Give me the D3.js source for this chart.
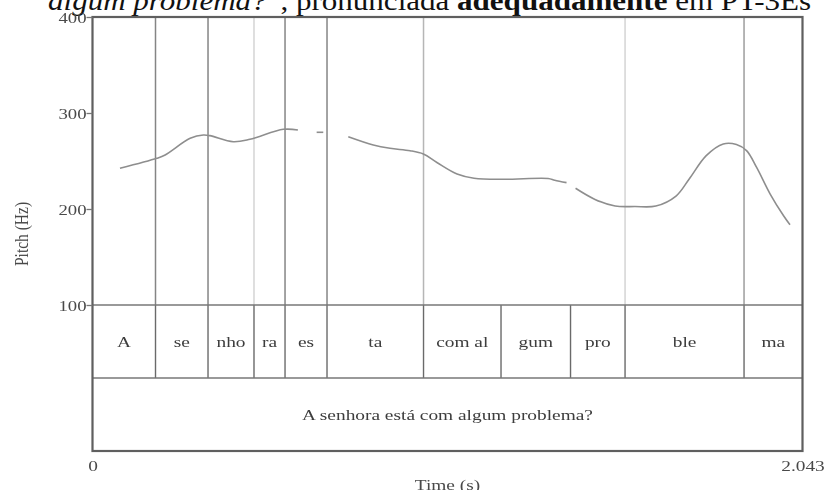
<!DOCTYPE html>
<html>
<head>
<meta charset="utf-8">
<script src="https://cdn.jsdelivr.net/npm/d3@7"></script>
<style>
  html, body { margin: 0; padding: 0; background: #fff; }
  svg { display: block; }
  text { font-family: "Liberation Serif", "Times New Roman", serif; }
</style>
</head>
<body>
<svg id="chart" width="828" height="490"></svg>
<script>
// ---- data ----
const timeEnd = 2.043;                       // total duration (s)
const timeTickLabels = ["0", "2.043"];
const hzTicks = [100, 200, 300, 400];

// syllable tier: interval boundaries (s) and labels
const boundaries = [0.1813, 0.3324, 0.4647, 0.5540, 0.6748, 0.9525, 1.1755, 1.3755, 1.5324, 1.8748];
const syllables = ["A", "se", "nho", "ra", "es", "ta", "com al", "gum", "pro", "ble", "ma"];
// sentence tier
const sentence = ["A senhora está com algum problema?"];

// pitch contour, split where the track is unvoiced
const seg1Time = [0.079, 0.185, 0.209, 0.281, 0.319, 0.338, 0.405, 0.453, 0.549, 0.591];
const seg1Hz   = [242.4, 252.8, 256.3, 273.6, 277.1, 276.4, 270.1, 272.6, 283.0, 282.3];
const seg2Time = [0.645, 0.664];
const seg2Hz   = [279.9, 279.9];
const seg3Time = [0.736, 0.808, 0.856, 0.914, 0.952, 0.991, 1.049, 1.098, 1.184, 1.311, 1.330, 1.364];
const seg3Hz   = [275.3, 266.7, 263.2, 260.7, 257.3, 248.5, 236.5, 232.1, 231.0, 231.8, 230.0, 227.5];
const seg4Time = [1.390, 1.446, 1.504, 1.561, 1.621, 1.679, 1.717, 1.766, 1.815, 1.853, 1.882, 1.911, 1.950, 1.989, 2.007];
const seg4Hz   = [221.6, 210.0, 203.1, 202.6, 203.1, 213.5, 231.3, 255.6, 267.8, 267.2, 260.8, 243.3, 215.6, 192.7, 183.6];

// caption line running above the figure
const captionParts = ["algum problema?", "”, pronunciada ", "adequadamente", " em PT-3Es"];

// ---- styling ----
const boundaryShadeInPitch = [1, 1, 0.35, 1, 1, 0.6, 0, 0, 0.35, 0.8]; // how strongly each boundary shows above the tiers
const frameColor = "#5e5e5e";
const textColor = "#3c3c3c";
const stretchX = 1.25;   // glyphs are drawn horizontally widened
const captionStyle = [
  { style: "italic", weight: "normal" },
  { style: "normal", weight: "normal" },
  { style: "normal", weight: "bold" },
  { style: "normal", weight: "normal" }
];

const svg = d3.select("#chart");
const defs = svg.append("defs");
defs.append("filter").attr("id", "soft").attr("x", "-5%").attr("y", "-5%").attr("width", "110%").attr("height", "110%")
  .append("feGaussianBlur").attr("stdDeviation", 0.45);

const plotLeft = 92.5, plotRight = 802.5, plotTop = 17, pitchBottom = 305, tierH = 73;
const tier1Bottom = pitchBottom + tierH, tier2Bottom = tier1Bottom + tierH;

const x = d3.scaleLinear().domain([0, timeEnd]).range([plotLeft, plotRight]);
const y = d3.scaleLinear().domain([100, 400]).range([pitchBottom, plotTop]);

// caption (its upper part runs off the top edge)
svg.append("text")
  .attr("transform", "translate(48,10) scale(1.15,1)")
  .attr("font-size", 27).attr("fill", "#111")
  .selectAll("tspan").data(captionParts).join("tspan")
  .attr("font-style", (d, i) => captionStyle[i].style)
  .attr("font-weight", (d, i) => captionStyle[i].weight)
  .text(d => d);

const g = svg.append("g").attr("filter", "url(#soft)");

// boundaries extending through the pitch area
g.append("g").selectAll("line").data(boundaries.map((b, i) => ({ b, s: boundaryShadeInPitch[i] })).filter(d => d.s > 0))
  .join("line")
  .attr("x1", d => x(d.b)).attr("x2", d => x(d.b))
  .attr("y1", plotTop).attr("y2", pitchBottom)
  .attr("stroke", "#858585").attr("stroke-width", 1.5)
  .attr("stroke-opacity", d => d.s);

// pitch contour
const line = d3.line().x(d => x(d[0])).y(d => y(d[1])).curve(d3.curveCatmullRom.alpha(0.5));
const segments = [[seg1Time, seg1Hz], [seg2Time, seg2Hz], [seg3Time, seg3Hz], [seg4Time, seg4Hz]];
g.append("g").selectAll("path").data(segments.map(([t, h]) => t.map((v, i) => [v, h[i]])))
  .join("path")
  .attr("d", line)
  .attr("fill", "none").attr("stroke", "#8e8e8e").attr("stroke-width", 1.6);

// syllable tier boundaries
g.append("g").selectAll("line").data(boundaries).join("line")
  .attr("x1", d => x(d)).attr("x2", d => x(d))
  .attr("y1", pitchBottom).attr("y2", tier1Bottom)
  .attr("stroke", "#6a6a6a").attr("stroke-width", 1.4);

// tier separators
g.append("g").selectAll("line").data([pitchBottom, tier1Bottom]).join("line")
  .attr("x1", plotLeft).attr("x2", plotRight).attr("y1", d => d).attr("y2", d => d)
  .attr("stroke", "#777").attr("stroke-width", 1.6);

// tier labels
const edges = [0, ...boundaries, timeEnd];
g.append("g").selectAll("text").data(syllables).join("text")
  .attr("transform", (d, i) => `translate(${x((edges[i] + edges[i + 1]) / 2)},${(pitchBottom + tier1Bottom) / 2 + 5}) scale(${stretchX},1)`)
  .attr("text-anchor", "middle").attr("font-size", 15.5).attr("fill", textColor)
  .text(d => d);

g.append("g").selectAll("text").data(sentence).join("text")
  .attr("transform", `translate(${x(timeEnd / 2)},${(tier1Bottom + tier2Bottom) / 2 + 5}) scale(${stretchX},1)`)
  .attr("text-anchor", "middle").attr("font-size", 15.5).attr("fill", textColor)
  .text(d => d);

// outer frame
g.append("rect")
  .attr("x", plotLeft).attr("y", plotTop).attr("width", plotRight - plotLeft).attr("height", tier2Bottom - plotTop)
  .attr("fill", "none").attr("stroke", frameColor).attr("stroke-width", 2.2);

// pitch axis
const yAxis = d3.axisLeft(y).tickValues(hzTicks).tickSize(6).tickPadding(1).tickFormat(d3.format("d"));
const yg = g.append("g").attr("transform", `translate(${plotLeft},0)`).call(yAxis);
yg.select(".domain").remove();
yg.selectAll(".tick line").attr("stroke", "#777").attr("stroke-width", 1.3);
yg.selectAll(".tick text")
  .attr("font-family", "Liberation Serif, serif").attr("font-size", 15).attr("fill", "#4a4a4a")
  .attr("x", null).attr("dy", "0.34em")
  .attr("transform", `translate(-6,0) scale(${stretchX},1)`);

g.append("text")
  .attr("transform", `translate(28,${(plotTop + tier2Bottom) / 2}) scale(${stretchX},1) rotate(-90)`)
  .attr("text-anchor", "middle").attr("font-size", 15.5).attr("fill", "#4a4a4a")
  .text("Pitch (Hz)");

// time axis: only the ends are labelled
const xAxis = d3.axisBottom(x).tickValues([0, timeEnd]).tickSize(0).tickPadding(0)
  .tickFormat((d, i) => timeTickLabels[i]);
const xg = g.append("g").attr("transform", `translate(0,${tier2Bottom})`).call(xAxis);
xg.select(".domain").remove();
xg.selectAll(".tick text")
  .attr("font-family", "Liberation Serif, serif").attr("font-size", 15.5).attr("fill", "#4a4a4a")
  .attr("y", null).attr("dy", null)
  .attr("transform", `translate(0,20) scale(${stretchX},1)`);

g.append("text")
  .attr("transform", `translate(${x(timeEnd / 2)},490) scale(${stretchX},1)`)
  .attr("text-anchor", "middle").attr("font-size", 15.5).attr("fill", "#4a4a4a")
  .text("Time (s)");
</script>
</body>
</html>
